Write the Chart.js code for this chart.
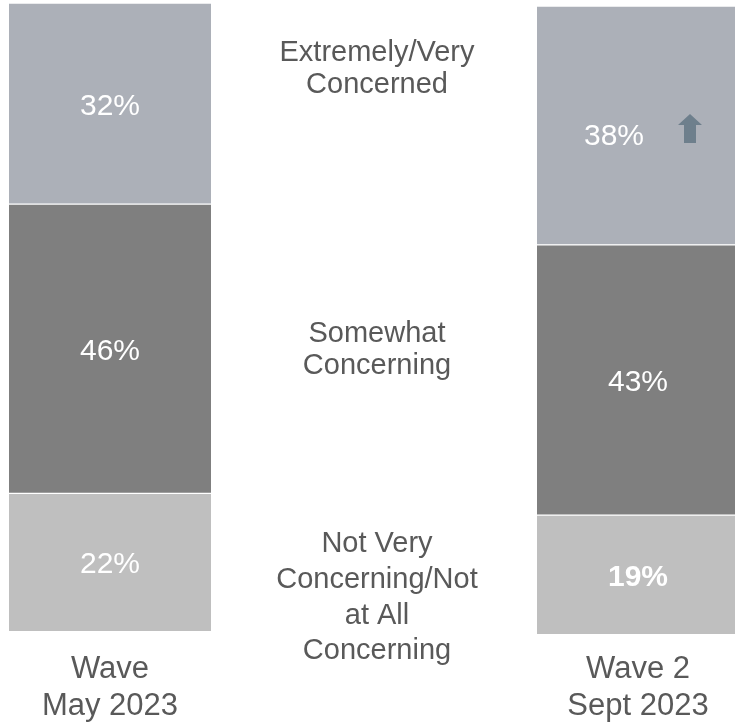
<!DOCTYPE html>
<html>
<head>
<meta charset="utf-8">
<script src="https://cdn.jsdelivr.net/npm/chart.js@4/dist/chart.umd.min.js"></script>
<style>
  html, body { margin: 0; padding: 0; background: #ffffff; }
</style>
</head>
<body>
<canvas id="concernChart" width="735" height="723"></canvas>
<script>
var waves = [["Wave", "May 2023"], ["Wave 2", "Sept 2023"]];
var levels = ["Extremely/Very Concerned", "Somewhat Concerning", "Not Very Concerning/Not at All Concerning"];
var levelLines = [["Extremely/Very", "Concerned"], ["Somewhat", "Concerning"], ["Not Very", "Concerning/Not", "at All", "Concerning"]];
var may2023 = [32, 46, 22];
var sept2023 = [38, 43, 19];
var levelColors = ["#acb0b8", "#7f7f7f", "#bfbfbf"];

var fontFamily = "'Liberation Sans', Arial, sans-serif";
var textGrey = "#595959";

// one dataset per level and wave, bottom level first so it stacks at the base;
// wave 2 sits on its own (hidden) axis, it is drawn a few pixels lower in the original
var datasets = [];
for (var i = levels.length - 1; i >= 0; i--) {
  [may2023, sept2023].forEach(function (series, w) {
    var data = [null, null];
    data[w] = series[i];
    datasets.push({
      label: levels[i],
      data: data,
      level: i,
      wave: w,
      yAxisID: w === 0 ? "y" : "y2",
      backgroundColor: levelColors[i],
      borderColor: "#ffffff",
      borderWidth: { top: 1, bottom: 1, left: 0, right: 0 },
      borderSkipped: false,
      barThickness: 202,
      clip: false
    });
  });
}

var segmentLabels = {
  id: "segmentLabels",
  afterDatasetsDraw: function (chart) {
    var ctx = chart.ctx;
    ctx.save();
    ctx.textAlign = "center";
    ctx.textBaseline = "alphabetic";
    chart.data.datasets.forEach(function (ds, di) {
      var meta = chart.getDatasetMeta(di);
      meta.data.forEach(function (bar, j) {
        var v = ds.data[j];
        if (v === null || v === undefined) return;
        var cx = bar.x;
        var cy = (bar.y + bar.base) / 2;
        var bold = ds.wave === 1 && ds.level === 2;
        if (ds.wave === 1 && ds.level === 0) {
          cx -= 24;
          // up arrow: significant increase vs wave 1
          var ax = bar.x + 52;
          ctx.fillStyle = "#6e7f8c";
          ctx.beginPath();
          ctx.moveTo(ax, cy - 11.5);
          ctx.lineTo(ax + 12, cy - 0.5);
          ctx.lineTo(ax + 6, cy - 0.5);
          ctx.lineTo(ax + 6, cy + 17.5);
          ctx.lineTo(ax - 6, cy + 17.5);
          ctx.lineTo(ax - 6, cy - 0.5);
          ctx.lineTo(ax - 12, cy - 0.5);
          ctx.closePath();
          ctx.fill();
          cy += 8.5;
        }
        ctx.fillStyle = "#ffffff";
        ctx.font = (bold ? "bold " : "") + "30px " + fontFamily;
        ctx.fillText(v + "%", cx, cy + 11);
      });
    });
    ctx.restore();
  }
};

var levelNames = {
  id: "levelNames",
  afterDraw: function (chart) {
    var ctx = chart.ctx;
    var area = chart.chartArea;
    var x = (area.left + area.right) / 2 + 3;
    var baselines = [[61, 93], [342, 374], [552, 588, 624, 659]];
    ctx.save();
    ctx.fillStyle = textGrey;
    ctx.font = "29px " + fontFamily;
    ctx.textAlign = "center";
    ctx.textBaseline = "alphabetic";
    levelLines.forEach(function (lines, k) {
      lines.forEach(function (line, n) {
        ctx.fillText(line, x, baselines[k][n]);
      });
    });
    ctx.restore();
  }
};

new Chart("concernChart", {
  type: "bar",
  data: {
    labels: waves,
    datasets: datasets
  },
  options: {
    responsive: false,
    animation: false,
    devicePixelRatio: 1,
    layout: { padding: { left: 110, right: 97, top: 3, bottom: -13 } },
    plugins: {
      legend: { display: false },
      tooltip: { enabled: false }
    },
    scales: {
      x: {
        stacked: true,
        offset: false,
        grid: { display: false },
        border: { display: false },
        ticks: {
          color: textGrey,
          font: { family: fontFamily, size: 31, lineHeight: 1.2 },
          padding: 11,
          maxRotation: 0,
          autoSkip: false
        }
      },
      y: { display: false, stacked: true, min: 0, max: 100 },
      y2: { display: false, stacked: true, min: 0.48, max: 100.48 }
    }
  },
  plugins: [segmentLabels, levelNames]
});
</script>
</body>
</html>
